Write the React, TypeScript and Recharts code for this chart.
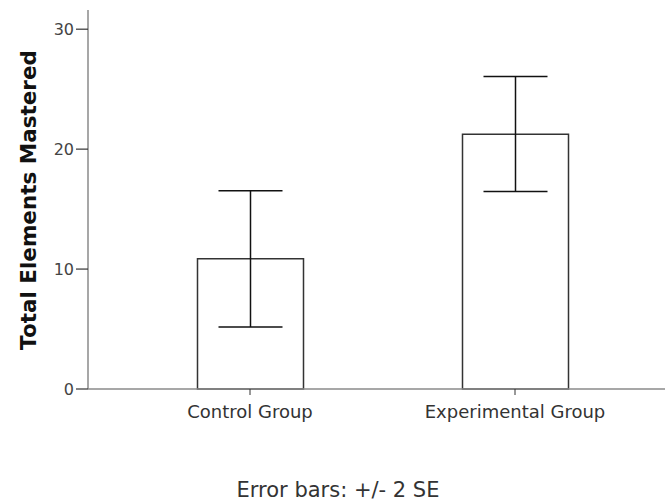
import { Bar, BarChart, ErrorBar, XAxis, YAxis } from "recharts";

const groups = ["Control Group", "Experimental Group"];
const means = [10.85, 21.25];
const lowerBounds = [5.17, 16.47];
const upperBounds = [16.52, 26.05];
const yTicks = [0, 10, 20, 30];

const data = groups.map((group, i) => ({
  group,
  mean: means[i],
  err: [means[i] - lowerBounds[i], upperBounds[i] - means[i]],
}));

const font = "'DejaVu Sans', sans-serif";

function YTitle({ viewBox }: any) {
  const cx = viewBox.x + 36;
  const cy = viewBox.y + 190;
  return (
    <text
      x={cx}
      y={cy}
      transform={`rotate(-90, ${cx}, ${cy})`}
      textAnchor="middle"
      fontFamily={font}
      fontWeight="bold"
      fontSize={21.5}
      fill="#111"
    >
      Total Elements Mastered
    </text>
  );
}

function Note({ viewBox }: any) {
  return (
    <text
      x={viewBox.x + 250}
      y={viewBox.y + 108}
      textAnchor="middle"
      fontFamily={font}
      fontSize={21}
      fill="#333"
    >
      Error bars: +/- 2 SE
    </text>
  );
}

export default function App() {
  return (
    <div style={{ position: "absolute", left: 0, top: 0, background: "#fff" }}>
      <BarChart
        width={665}
        height={504}
        data={data}
        margin={{ top: 10, right: 0, bottom: 85, left: 0 }}
      >
        <XAxis
          dataKey="group"
          height={30}
          padding={{ left: 29.5, right: 17.5 }}
          tickSize={6}
          tickMargin={10}
          axisLine={{ stroke: "#8a8a8a", strokeWidth: 1.5 }}
          tickLine={{ stroke: "#333" }}
          tick={{ fontFamily: font, fontSize: 18, fill: "#333" }}
          label={<Note />}
        />
        <YAxis
          width={88}
          domain={[0, 31.6]}
          ticks={yTicks}
          tickSize={12}
          tickMargin={2}
          axisLine={{ stroke: "#8a8a8a", strokeWidth: 1.5 }}
          tickLine={{ stroke: "#333", strokeWidth: 1.2 }}
          tick={{ fontFamily: font, fontSize: 16, fill: "#444" }}
          label={<YTitle />}
        />
        <Bar
          dataKey="mean"
          barSize={106}
          fill="#fff"
          stroke="#333"
          strokeWidth={1.5}
          isAnimationActive={false}
        >
          <ErrorBar
            dataKey="err"
            width={32}
            stroke="#111"
            strokeWidth={1.5}
            isAnimationActive={false}
          />
        </Bar>
      </BarChart>
    </div>
  );
}
